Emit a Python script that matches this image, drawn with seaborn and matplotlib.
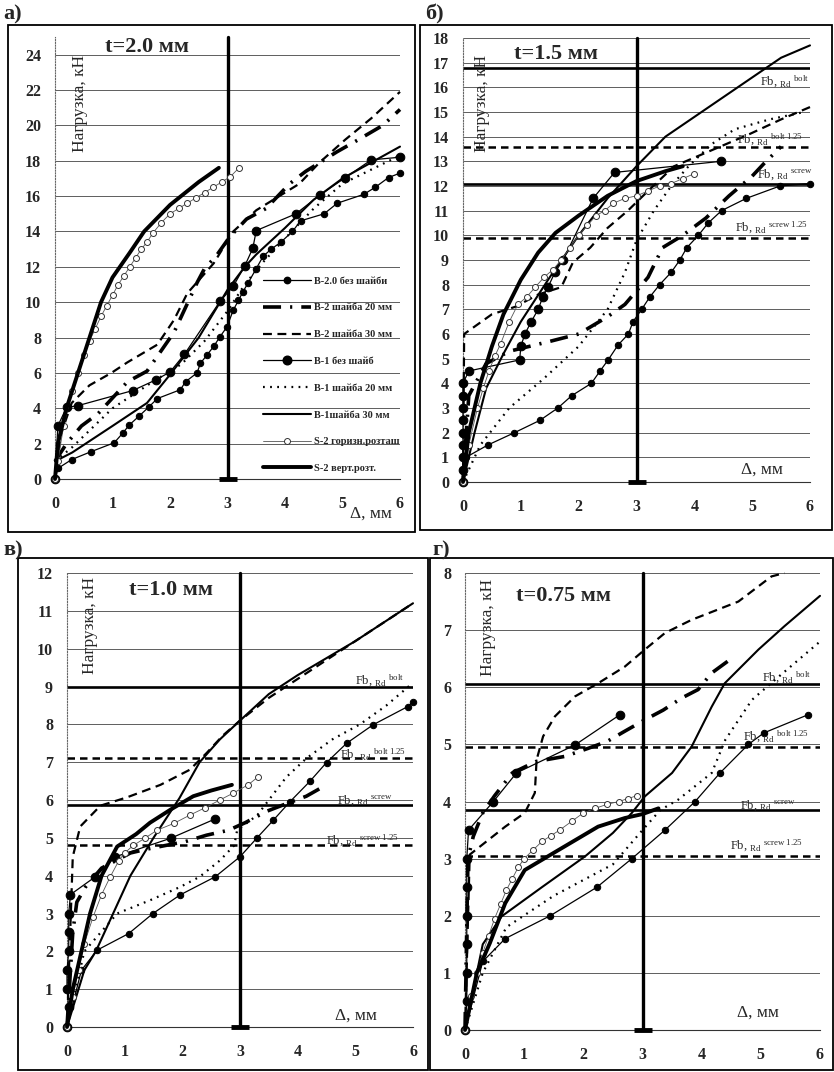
import matplotlib
matplotlib.use("Agg")
import matplotlib.pyplot as plt
import seaborn as sns
from matplotlib.patches import Rectangle
from matplotlib.lines import Line2D

# ---------------------------------------------------------------- data
SERIES_NAMES = ["B-2.0 без шайби", "B-2 шайба 20 мм", "B-2 шайба 30 мм", "B-1 без шайб",
                "B-1 шайба 20 мм", "B-1шайба 30 мм", "S-2 горизн.розташ", "S-2 верт.розт."]
PANEL_LETTERS = ["а)", "б)", "в)", "г)"]
PANEL_TITLES = ["t=2.0 мм", "t=1.5 мм", "t=1.0 мм", "t=0.75 мм"]
Y_LABEL = "Нагрузка, кН"
X_LABEL = "Δ, мм"
X_TICKS = [0, 1, 2, 3, 4, 5, 6]
Y_MAX = [25, 18, 12, 8]
Y_STEP = [2, 1, 1, 1]
LIMIT_X = 3.0
REF_LABELS = [r"Fb, $_{\mathrm{Rd}}$ $^{\mathrm{bolt}}$",
              r"Fb, $_{\mathrm{Rd}}$ $^{\mathrm{bolt\ 1.25}}$",
              r"Fb, $_{\mathrm{Rd}}$ $^{\mathrm{screw}}$",
              r"Fb, $_{\mathrm{Rd}}$ $^{\mathrm{screw\ 1.25}}$"]
b_ref = [16.8, 13.6, 12.1, 9.9]
c_ref = [9.0, 7.1, 5.87, 4.8]
d_ref = [6.05, 4.95, 3.85, 3.05]

# panel a  (t = 2.0 mm)
a_b20_none_x = [0, 0.05, 0.29, 0.63, 1.03, 1.18, 1.29, 1.46, 1.64, 1.78, 2.18, 2.27, 2.47, 2.53, 2.64, 2.76, 2.87,
                2.99, 3.1, 3.19, 3.27, 3.36, 3.5, 3.62, 3.76, 3.93, 4.13, 4.27, 4.68, 4.91, 5.37, 5.57, 5.8, 6.0]
a_b20_none_y = [0, 0.6, 1.1, 1.55, 2.05, 2.6, 3.05, 3.55, 4.1, 4.55, 5.05, 5.5, 6.0, 6.55, 7.0, 7.5, 8.05,
                8.6, 9.55, 10.1, 10.6, 11.1, 11.9, 12.6, 13.0, 13.4, 14.0, 14.6, 15.0, 15.6, 16.1, 16.5, 17.05, 17.3]
a_b2_w20_x = [0, 0.2, 0.46, 0.75, 1.26, 1.6, 2.07, 2.47, 2.6, 2.8, 3.04, 3.33, 3.67, 4.08, 4.36, 4.9, 5.28, 5.7, 6.0]
a_b2_w20_y = [1.0, 2.0, 3.0, 3.7, 5.5, 6.1, 8.3, 11.1, 11.9, 12.6, 13.7, 14.7, 15.3, 16.7, 17.4, 18.5, 19.2, 20.0, 20.9]
a_b2_w30_x = [0, 0.1, 0.29, 0.6, 0.98, 1.26, 1.78, 2.07, 2.3, 2.76, 3.1, 3.5, 3.9, 4.25, 4.6, 5.05, 5.5, 6.0]
a_b2_w30_y = [0, 2.5, 4.3, 5.3, 6.0, 6.6, 7.6, 9.0, 10.5, 12.2, 14.0, 15.2, 16.0, 16.7, 17.9, 19.2, 20.4, 21.9]
a_b1_none_x = [0, 0.05, 0.2, 0.4, 1.35, 1.75, 2.0, 2.25, 2.87, 3.1, 3.3, 3.44, 3.5, 4.19, 4.6, 5.05, 5.5, 6.0]
a_b1_none_y = [0, 3.0, 4.05, 4.15, 5.0, 5.6, 6.05, 7.05, 10.05, 10.9, 12.05, 13.05, 14.05, 15.0, 16.05, 17.05, 18.05, 18.2]
a_b1_w20_x = [0, 0.3, 1.0, 1.7, 2.2, 2.6, 3.0, 3.3, 3.6, 4.0, 4.5, 5.0, 5.5, 6.0]
a_b1_w20_y = [1.0, 1.8, 4.0, 5.5, 6.5, 7.8, 9.5, 11.0, 12.2, 13.6, 15.3, 16.7, 17.5, 18.3]
a_b1_w30_x = [0, 0.3, 1.0, 1.6, 2.0, 2.5, 3.0, 3.3, 3.5, 4.0, 4.5, 5.0, 5.5, 6.0]
a_b1_w30_y = [1.0, 1.5, 3.0, 4.3, 5.9, 8.0, 10.7, 12.0, 12.7, 14.2, 15.8, 17.0, 17.9, 18.8]
a_s2_hor_x = [0, 0.05, 0.15, 0.3, 0.4, 0.5, 0.6, 0.7, 0.8, 0.9, 1.0, 1.1, 1.2, 1.3, 1.4, 1.5, 1.6, 1.7, 1.85, 2.0,
              2.15, 2.3, 2.45, 2.6, 2.75, 2.9, 3.05, 3.2]
a_s2_hor_y = [0, 1.0, 3.0, 5.0, 6.0, 7.0, 7.8, 8.5, 9.2, 9.8, 10.4, 11.0, 11.5, 12.0, 12.5, 13.0, 13.4, 13.9, 14.5, 15.0,
              15.3, 15.6, 15.9, 16.2, 16.5, 16.8, 17.1, 17.6]
a_s2_ver_x = [0, 0.05, 0.2, 0.4, 0.6, 0.8, 1.0, 1.3, 1.55, 2.0, 2.5, 2.85]
a_s2_ver_y = [0, 2.0, 4.0, 6.0, 8.0, 10.0, 11.4, 12.8, 14.0, 15.5, 16.8, 17.6]

# panel b  (t = 1.5 mm)
b_b20_none_x = [0, 0.05, 0.43, 0.89, 1.33, 1.64, 1.88, 2.22, 2.37, 2.51, 2.68, 2.86, 2.94, 3.09, 3.23, 3.4, 3.6,
                3.75, 3.87, 4.07, 4.24, 4.47, 4.9, 5.48, 6.0]
b_b20_none_y = [0, 1.0, 1.5, 2.0, 2.5, 3.0, 3.5, 4.0, 4.5, 4.95, 5.55, 6.0, 6.5, 7.0, 7.5, 8.0, 8.5,
                9.0, 9.5, 10.0, 10.5, 11.0, 11.5, 12.0, 12.1]
b_b2_w20_x = [0, 0.1, 0.4, 0.8, 1.5, 2.0, 2.5, 2.8, 3.2, 3.45, 3.8, 4.2, 4.6, 5.0, 5.2, 5.5]
b_b2_w20_y = [0, 3.5, 4.8, 5.3, 5.7, 6.0, 6.7, 7.2, 8.3, 9.5, 10.0, 10.7, 11.6, 12.4, 12.9, 13.6]
b_b2_w30_x = [0, 0.02, 0.5, 0.9, 1.3, 1.7, 1.9, 2.2, 2.5, 2.85, 3.2, 3.65, 4.35, 4.95, 5.5, 6.0]
b_b2_w30_y = [0, 6.0, 6.8, 7.1, 7.6, 7.9, 8.9, 9.5, 10.3, 11.0, 11.8, 12.8, 13.5, 14.1, 14.7, 15.2]
b_b1_none_x = [0, 0, 0, 0, 0, 0, 0, 0, 0, 0.1, 0.98, 1.0, 1.07, 1.18, 1.3, 1.38, 1.47, 1.59, 1.73, 2.25, 2.62, 4.46]
b_b1_none_y = [0, 0.5, 1.0, 1.5, 2.0, 2.5, 3.0, 3.5, 4.0, 4.5, 4.95, 5.5, 6.0, 6.5, 7.0, 7.5, 7.9, 8.5, 9.0, 11.5,
               12.55, 13.0]
b_b1_w20_x = [0, 0.3, 0.8, 1.4, 2.0, 2.5, 2.8, 3.0, 3.3, 3.6, 3.9, 4.3, 4.7, 5.3, 5.9]
b_b1_w20_y = [0, 1.5, 3.0, 4.2, 5.5, 7.0, 8.5, 9.8, 11.0, 12.0, 12.8, 13.7, 14.3, 14.7, 15.0]
b_b1_w30_x = [0, 0.2, 0.4, 0.7, 1.0, 1.5, 2.0, 2.5, 3.0, 3.5, 4.0, 4.5, 5.0, 5.5, 6.0]
b_b1_w30_y = [0, 2.0, 3.8, 5.2, 6.5, 8.3, 10.0, 11.5, 12.8, 14.0, 14.8, 15.6, 16.4, 17.2, 17.7]
b_s2_hor_x = [0, 0.1, 0.25, 0.35, 0.45, 0.55, 0.65, 0.8, 0.95, 1.1, 1.25, 1.4, 1.55, 1.7, 1.85, 2.0, 2.15, 2.3,
              2.45, 2.6, 2.8, 3.0, 3.2, 3.4, 3.6, 3.8, 4.0]
b_s2_hor_y = [0, 1.5, 3.0, 3.8, 4.5, 5.1, 5.6, 6.5, 7.2, 7.5, 7.9, 8.3, 8.6, 9.0, 9.5, 10.0, 10.4, 10.8,
              11.0, 11.3, 11.5, 11.6, 11.8, 12.0, 12.1, 12.3, 12.5]
b_s2_ver_x = [0, 0.1, 0.3, 0.5, 0.7, 1.0, 1.3, 1.6, 2.0, 2.5, 3.0, 3.5, 3.8]
b_s2_ver_y = [0, 2.0, 4.0, 5.5, 6.8, 8.2, 9.3, 10.1, 10.8, 11.6, 12.2, 12.6, 12.8]

# panel c  (t = 1.0 mm)
c_b20_none_x = [0, 0.25, 0.52, 1.07, 1.49, 1.96, 2.57, 3.0, 3.29, 3.58, 3.87, 4.21, 4.5, 4.85, 5.31, 5.91, 6.0]
c_b20_none_y = [0, 1.5, 2.03, 2.47, 3.0, 3.49, 3.97, 4.5, 4.99, 5.47, 5.96, 6.49, 6.99, 7.5, 7.99, 8.47, 8.6]
c_b2_w20_x = [0, 0.1, 0.17, 0.32, 0.6, 1.1, 1.38, 2.05, 2.42, 2.8, 3.09, 3.46, 3.8, 4.15, 4.44]
c_b2_w20_y = [0, 2.5, 3.3, 3.7, 4.2, 4.6, 4.7, 4.9, 5.07, 5.2, 5.4, 5.7, 5.9, 6.1, 6.35]
c_b2_w30_x = [0, 0.1, 0.23, 0.58, 1.04, 1.62, 2.13, 2.42, 2.7, 3.0, 3.5, 4.0, 4.5, 5.0, 5.5, 6.0]
c_b2_w30_y = [0, 4.5, 5.3, 5.85, 6.07, 6.4, 6.8, 7.24, 7.7, 8.1, 8.7, 9.2, 9.7, 10.2, 10.7, 11.2]
c_b1_none_x = [0, 0.03, 0.0, 0.0, 0.03, 0.03, 0.03, 0.06, 0.49, 0.84, 1.8, 2.57]
c_b1_none_y = [0, 0.53, 1.0, 1.5, 2.0, 2.5, 3.0, 3.5, 3.97, 4.5, 4.99, 5.5]
c_b1_w20_x = [0, 0.3, 0.87, 1.44, 1.96, 2.3, 2.65, 2.9, 2.95, 3.3, 3.8, 4.15, 4.6, 5.08, 5.54, 6.0]
c_b1_w20_y = [0, 2.0, 3.0, 3.35, 3.7, 3.97, 4.4, 4.8, 5.2, 5.6, 6.6, 7.1, 7.6, 8.0, 8.5, 9.1]
c_b1_w30_x = [0, 0.3, 0.5, 0.8, 1.1, 1.5, 1.95, 2.3, 2.65, 3.0, 3.5, 4.0, 4.5, 5.0, 5.5, 6.0]
c_b1_w30_y = [0, 1.5, 2.0, 3.0, 4.0, 5.0, 6.05, 7.0, 7.6, 8.1, 8.8, 9.3, 9.75, 10.2, 10.7, 11.2]
c_s2_hor_x = [0, 0.1, 0.2, 0.3, 0.45, 0.6, 0.75, 0.9, 1.0, 1.15, 1.36, 1.56, 1.85, 2.13, 2.4, 2.65, 2.88, 3.14, 3.32]
c_s2_hor_y = [0, 0.8, 1.5, 2.2, 2.9, 3.5, 3.97, 4.4, 4.6, 4.8, 5.0, 5.2, 5.38, 5.6, 5.8, 6.0, 6.18, 6.4, 6.62]
c_s2_ver_x = [0, 0.1, 0.25, 0.4, 0.6, 0.87, 1.2, 1.44, 1.8, 2.19, 2.5, 2.86]
c_s2_ver_y = [0, 1.0, 2.0, 3.0, 4.0, 4.77, 5.1, 5.4, 5.75, 6.1, 6.25, 6.4]

# panel d  (t = 0.75 mm)
d_b20_none_x = [0, 0.3, 0.68, 1.44, 2.23, 2.82, 3.38, 3.89, 4.31, 4.79, 5.05, 5.8]
d_b20_none_y = [0, 1.2, 1.6, 2.0, 2.5, 3.0, 3.5, 4.0, 4.5, 5.0, 5.2, 5.52]
d_b2_w20_x = [0, 0.05, 0.14, 0.3, 0.5, 0.8, 1.2, 1.69, 2.08, 2.4, 2.7, 3.04, 3.35, 3.66, 3.94, 4.17, 4.5]
d_b2_w20_y = [0, 3.0, 3.39, 3.8, 4.1, 4.5, 4.7, 4.79, 4.93, 5.05, 5.23, 5.43, 5.6, 5.81, 5.96, 6.25, 6.5]
d_b2_w30_x = [0, 0.08, 0.68, 1.01, 1.18, 1.21, 1.32, 1.52, 1.86, 2.25, 2.7, 3.04, 3.38, 3.83, 4.62, 5.18, 5.4]
d_b2_w30_y = [0, 3.07, 3.56, 3.8, 4.15, 4.73, 5.14, 5.49, 5.84, 6.07, 6.36, 6.66, 6.95, 7.18, 7.5, 7.94, 8.0]
d_b1_none_x = [0, 0.03, 0.03, 0.03, 0.03, 0.03, 0.03, 0.06, 0.48, 0.87, 1.86, 2.62]
d_b1_none_y = [0, 0.5, 1.0, 1.5, 2.0, 2.5, 3.0, 3.5, 4.0, 4.5, 4.99, 5.52]
d_b1_w20_x = [0, 0.3, 0.7, 1.5, 2.5, 3.0, 3.3, 3.6, 4.17, 4.4, 4.85, 5.24, 6.0]
d_b1_w20_y = [0, 1.0, 1.8, 2.35, 2.9, 3.5, 3.85, 4.03, 4.5, 5.08, 5.78, 6.13, 6.8]
d_b1_w30_x = [0, 0.3, 0.62, 1.3, 2.03, 2.5, 2.82, 3.04, 3.5, 3.83, 4.17, 4.39, 4.96, 5.4, 6.0]
d_b1_w30_y = [0, 1.5, 1.99, 2.5, 3.04, 3.45, 3.8, 4.09, 4.5, 4.96, 5.66, 6.07, 6.66, 7.07, 7.6]
d_s2_hor_x = [0, 0.1, 0.2, 0.3, 0.4, 0.5, 0.6, 0.7, 0.8, 0.9, 1.0, 1.15, 1.3, 1.45, 1.6, 1.8, 2.0, 2.2, 2.4, 2.6,
              2.75, 2.9]
d_s2_hor_y = [0, 0.6, 1.0, 1.35, 1.65, 1.95, 2.2, 2.45, 2.65, 2.85, 3.0, 3.15, 3.3, 3.4, 3.5, 3.65, 3.8, 3.88, 3.95,
              4.0, 4.05, 4.1]
d_s2_ver_x = [0, 0.2, 0.42, 0.68, 1.01, 1.58, 2.25, 2.7, 3.0, 3.27]
d_s2_ver_y = [0, 1.0, 1.52, 2.22, 2.8, 3.15, 3.56, 3.71, 3.78, 3.88]

PANEL_SERIES = [
    [(a_b20_none_x, a_b20_none_y), (a_b2_w20_x, a_b2_w20_y), (a_b2_w30_x, a_b2_w30_y), (a_b1_none_x, a_b1_none_y),
     (a_b1_w20_x, a_b1_w20_y), (a_b1_w30_x, a_b1_w30_y), (a_s2_hor_x, a_s2_hor_y), (a_s2_ver_x, a_s2_ver_y)],
    [(b_b20_none_x, b_b20_none_y), (b_b2_w20_x, b_b2_w20_y), (b_b2_w30_x, b_b2_w30_y), (b_b1_none_x, b_b1_none_y),
     (b_b1_w20_x, b_b1_w20_y), (b_b1_w30_x, b_b1_w30_y), (b_s2_hor_x, b_s2_hor_y), (b_s2_ver_x, b_s2_ver_y)],
    [(c_b20_none_x, c_b20_none_y), (c_b2_w20_x, c_b2_w20_y), (c_b2_w30_x, c_b2_w30_y), (c_b1_none_x, c_b1_none_y),
     (c_b1_w20_x, c_b1_w20_y), (c_b1_w30_x, c_b1_w30_y), (c_s2_hor_x, c_s2_hor_y), (c_s2_ver_x, c_s2_ver_y)],
    [(d_b20_none_x, d_b20_none_y), (d_b2_w20_x, d_b2_w20_y), (d_b2_w30_x, d_b2_w30_y), (d_b1_none_x, d_b1_none_y),
     (d_b1_w20_x, d_b1_w20_y), (d_b1_w30_x, d_b1_w30_y), (d_s2_hor_x, d_s2_hor_y), (d_s2_ver_x, d_s2_ver_y)],
]
PANEL_REFS = [None, b_ref, c_ref, d_ref]

# ---------------------------------------------------------------- styles / layout
K = "black"
STYLES = [
    dict(color=K, linewidth=0.9, linestyle="-", marker="o", markersize=4.6, markerfacecolor=K, markeredgecolor=K),
    dict(color=K, linewidth=2.6, linestyle=(0, (5, 2.5, 0.6, 2.5)), marker=None),
    dict(color=K, linewidth=1.6, linestyle=(0, (4, 2.5)), marker=None),
    dict(color=K, linewidth=0.9, linestyle="-", marker="o", markersize=6.2, markerfacecolor=K, markeredgecolor=K),
    dict(color=K, linewidth=1.6, linestyle=(0, (0.8, 2.4)), marker=None),
    dict(color=K, linewidth=1.5, linestyle="-", marker=None),
    dict(color="#555555", linewidth=0.6, linestyle="-", marker="o", markersize=4.3, markerfacecolor="white",
         markeredgecolor="#333333", markeredgewidth=0.7),
    dict(color=K, linewidth=2.8, linestyle="-", marker=None),
]
REF_STYLES = [dict(color=K, lw=1.9, ls="-"), dict(color=K, lw=1.8, ls=(0, (3, 2))),
              dict(color=K, lw=1.9, ls="-"), dict(color=K, lw=1.8, ls=(0, (3, 2)))]

W, H = 834, 1072
AX_PX = [(55, 37, 400, 479), (463, 38, 810, 482), (67, 573, 413, 1027), (465, 573, 820, 1030)]
BOX_PX = [(8, 25, 415, 532), (420, 25, 832, 530), (18, 558, 428, 1070), (430, 558, 833, 1070)]
LETTER_PX = [(3, 24), (425, 24), (3, 560), (432, 560)]
TITLE_POS = [(1.6, 24.45), (1.6, 17.35), (1.8, 11.55), (1.67, 7.6)]
YLAB_POS = [(0.43, 24.0), (0.33, 17.3), (0.4, 11.9), (0.39, 7.9)]
XLAB_POS = [(5.13, -1.95), (4.8, 0.5), (4.65, 0.3), (4.6, 0.3)]
REF_TXT = [None,
           [(5.14, 16.2), (4.74, 13.85), (5.08, 12.45), (4.7, 10.3)],
           [(4.99, 9.15), (4.73, 7.18), (4.68, 5.98), (4.5, 4.93)],
           [(5.02, 6.17), (4.7, 5.13), (4.65, 3.93), (4.48, 3.22)]]

sns.set_theme(style="white")
plt.rcParams["font.family"] = ["Liberation Serif", "DejaVu Serif"]
plt.rcParams["mathtext.fontset"] = "custom"
plt.rcParams["mathtext.rm"] = "Liberation Serif"
plt.rcParams["mathtext.it"] = "Liberation Serif:italic"
plt.rcParams["mathtext.bf"] = "Liberation Serif:bold"

fig = plt.figure(figsize=(W / 100, H / 100), dpi=100)
fig.patch.set_facecolor("white")

axes = []
for p in range(4):
    x0, y0, x1, y1 = AX_PX[p]
    ax = fig.add_axes([x0 / W, 1 - y1 / H, (x1 - x0) / W, (y1 - y0) / H])
    axes.append(ax)
    ymax = Y_MAX[p]
    ax.set_xlim(0, 6)
    ax.set_ylim(0, ymax)
    yt = list(range(0, ymax + 1, Y_STEP[p]))
    ax.set_yticks(yt)
    ax.set_xticks(X_TICKS)
    ax.grid(axis="y", color="#444444", lw=0.6)
    ax.grid(axis="x", visible=False)
    ax.set_axisbelow(True)
    for s in ("top", "right"):
        ax.spines[s].set_visible(False)
    ax.spines["left"].set_color("#666666")
    ax.spines["left"].set_linestyle((0, (1, 1.5)))
    ax.spines["left"].set_linewidth(0.8)
    ax.spines["bottom"].set_color("#333333")
    ax.spines["bottom"].set_linewidth(0.8)
    ax.tick_params(axis="both", length=3, width=0.7, direction="out", color="#333333", labelsize=11.5, pad=7)
    ax.tick_params(axis="x", pad=9)
    for lbl in ax.get_xticklabels() + ax.get_yticklabels():
        lbl.set_fontweight("bold")
    ax.set_xlabel("")
    ax.set_ylabel("")

    # reference lines
    refs = PANEL_REFS[p]
    if refs is not None:
        for val, st in zip(refs, REF_STYLES):
            ax.plot([0, 6], [val, val], zorder=2, **st)
        for (tx, ty), txt in zip(REF_TXT[p], REF_LABELS):
            ax.text(tx, ty, txt, fontsize=9, ha="left", va="center", zorder=6)

    # vertical 3 mm limit
    ax.plot([LIMIT_X, LIMIT_X], [0, ymax], color=K, lw=2.4, zorder=3, clip_on=False)
    ax.plot([LIMIT_X], [0], marker="_", markersize=13, markeredgewidth=3.5, color=K, zorder=3, clip_on=False)

    # data series
    for (xs, ys), st in zip(PANEL_SERIES[p], STYLES):
        sns.lineplot(x=xs, y=ys, ax=ax, sort=False, estimator=None, legend=False,
                     clip_on=False, zorder=4, **st)

    ax.text(TITLE_POS[p][0], TITLE_POS[p][1], PANEL_TITLES[p], fontsize=16, fontweight="bold",
            ha="center", va="center", zorder=7)
    ax.text(YLAB_POS[p][0], YLAB_POS[p][1], Y_LABEL, rotation=90, fontsize=12.5, ha="center", va="top", zorder=7)
    ax.text(XLAB_POS[p][0], XLAB_POS[p][1], X_LABEL, fontsize=12.5, ha="left", va="center",
            zorder=7, clip_on=False)

# legend (panel a)
handles = [Line2D([0], [0], **st) for st in STYLES]
leg = axes[0].legend(handles, SERIES_NAMES, loc="upper left", bbox_to_anchor=(0.59, 0.468),
                     frameon=False, fontsize=7.5, handlelength=4.6, handletextpad=0.3,
                     labelspacing=1.68, borderaxespad=0)
for t in leg.get_texts():
    t.set_fontweight("bold")

# panel frames and letters
for p in range(4):
    x0, y0, x1, y1 = BOX_PX[p]
    fig.add_artist(Rectangle((x0 / W, 1 - y1 / H), (x1 - x0) / W, (y1 - y0) / H,
                             transform=fig.transFigure, fill=False, lw=1.3, ec="black"))
    lx, ly = LETTER_PX[p]
    fig.text(lx / W, 1 - ly / H, PANEL_LETTERS[p], fontsize=16, fontweight="bold", ha="left", va="bottom")

fig.savefig("out.png", dpi=100, facecolor="white")
